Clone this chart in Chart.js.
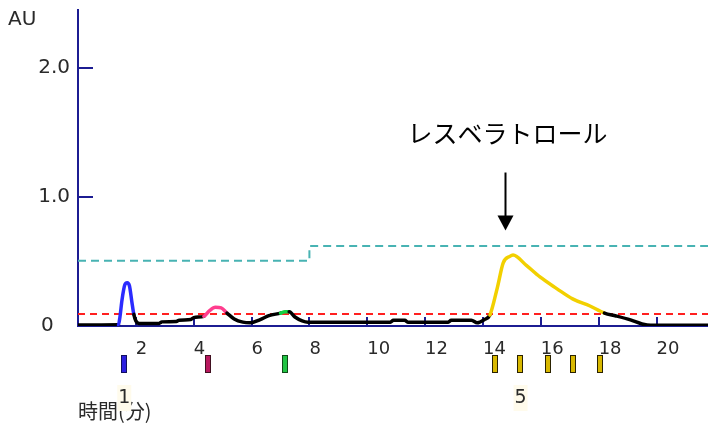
<!DOCTYPE html>
<html>
<head>
<meta charset="utf-8">
<script src="https://cdn.jsdelivr.net/npm/chart.js@4.4.1/dist/chart.umd.min.js"></script>
<style>
  html, body { margin: 0; padding: 0; background: #fff; }
  #wrap { width: 708px; height: 423px; position: relative; }
</style>
</head>
<body>
<div id="wrap"><canvas id="myChart"></canvas></div>
<script>
// chromatogram trace: retention time (min) / absorbance (AU)
const traceTime = [0, 1.40, 1.45, 1.52, 1.62, 1.70, 1.78, 1.86, 1.93, 2.00,
  2.12, 2.80, 2.90, 3.40, 3.50, 3.90, 4.00, 4.35, 4.55, 4.75,
  4.95, 5.15, 5.40, 5.70, 5.95, 6.30, 6.60, 7.00, 7.15, 7.30,
  7.50, 7.75, 7.95, 10.80, 10.90, 11.30, 11.40, 12.80, 12.90, 13.60,
  13.80, 14.05, 14.24, 14.50, 14.70, 14.93, 15.04, 15.50, 15.97, 16.55,
  17.10, 17.70, 18.20, 18.60, 19.10, 19.50, 19.80, 21.78];
const traceAU = [0.008, 0.01, 0.07, 0.2, 0.32, 0.335, 0.31, 0.19, 0.09, 0.04,
  0.02, 0.02, 0.032, 0.035, 0.045, 0.05, 0.065, 0.075, 0.12, 0.145,
  0.14, 0.10, 0.055, 0.03, 0.025, 0.05, 0.08, 0.10, 0.11, 0.11,
  0.07, 0.04, 0.03, 0.03, 0.045, 0.045, 0.03, 0.03, 0.045, 0.045,
  0.025, 0.05, 0.085, 0.30, 0.49, 0.54, 0.55, 0.47, 0.38, 0.29,
  0.21, 0.155, 0.10, 0.078, 0.047, 0.016, 0.005, 0.005];

// detected peak windows (min)
const peakStart = [1.42, 4.35, 7.05, 14.24];
const peakEnd = [1.96, 5.2, 7.35, 18.2];

// threshold lines
const cyanTime = [0, 8.0, 8.0, 21.78];
const cyanAU = [0.505, 0.505, 0.62, 0.62];
const redTime = [0, 21.78];
const redAU = [0.093, 0.093];

// fraction markers below the axis, and peak numbers
const markerTime = [1.6, 4.49, 7.14, 14.4, 15.28, 16.25, 17.1, 18.05];
const markerKind = [0, 1, 2, 3, 3, 3, 3, 3];
const peakNoTime = [1.6, 15.3];
const peakNoText = ['1', '5'];

// axis ticks
const xTicks = [2, 4, 6, 8, 10, 12, 14, 16, 18, 20];
const yTicks = [0, 1, 2];
const yTickText = ['0\u2002 ', '1.0', '2.0'];

const axisColor = '#1c1c92';
const textColor = '#2a2a2a';
const peakColor = ['#2b2bff', '#ff3d8e', '#14d040', '#f2d000'];
const markerFill = ['#2c1fe0', '#b8185e', '#22c444', '#d8b800'];
const markerEdge = ['#121060', '#401020', '#104a18', '#2a2200'];

function segColor(c) {
    const mid = (c.p0.parsed.x + c.p1.parsed.x) / 2;
    for (let i = 0; i < peakStart.length; i++) {
        if (mid >= peakStart[i] && mid <= peakEnd[i]) return peakColor[i];
    }
    return undefined;
}

const overlay = {
    id: 'overlay',
    beforeDatasetsDraw(chart) {
        const {ctx, chartArea: a, scales: {x, y}} = chart;
        ctx.save();
        ctx.strokeStyle = axisColor;
        ctx.lineWidth = 2;
        ctx.beginPath();
        xTicks.forEach(t => {
            const px = Math.round(x.getPixelForValue(t));
            ctx.moveTo(px, a.bottom);
            ctx.lineTo(px, a.bottom - 9);
        });
        yTicks.filter(v => v > 0).forEach(v => {
            const py = Math.round(y.getPixelForValue(v));
            ctx.moveTo(a.left, py);
            ctx.lineTo(a.left + 15, py);
        });
        ctx.stroke();
        ctx.restore();
    },
    afterDraw(chart) {
        const {ctx, chartArea: a, scales: {x, y}} = chart;
        ctx.save();

        // fraction markers
        markerTime.forEach((t, i) => {
            const k = markerKind[i];
            const px = Math.round(x.getPixelForValue(t));
            ctx.fillStyle = markerEdge[k];
            ctx.fillRect(px - 3, a.bottom + 29, 6, 18);
            ctx.fillStyle = markerFill[k];
            ctx.fillRect(px - 2, a.bottom + 30, 4, 16);
        });

        // peak numbers
        ctx.font = '19px "DejaVu Sans"';
        ctx.textAlign = 'center';
        ctx.textBaseline = 'middle';
        peakNoTime.forEach((t, i) => {
            const px = x.getPixelForValue(t);
            ctx.fillStyle = '#fffbec';
            ctx.fillRect(px - 7, a.bottom + 59, 14, 26);
            ctx.fillStyle = textColor;
            ctx.fillText(peakNoText[i], px, a.bottom + 72);
        });

        // unit label
        ctx.textAlign = 'left';
        ctx.font = '20px "DejaVu Sans"';
        ctx.fillText('AU', 8, 20);

        // annotation with arrow
        const ax = Math.round(x.getPixelForValue(14.75)) + 0.5;
        ctx.fillStyle = '#000';
        ctx.textAlign = 'center';
        ctx.font = '25px "Noto Sans CJK JP"';
        ctx.fillText('レスベラトロール', ax + 2, y.getPixelForValue(1.49));
        const top = y.getPixelForValue(1.19);
        const tip = y.getPixelForValue(0.74);
        ctx.strokeStyle = '#000';
        ctx.lineWidth = 2;
        ctx.beginPath();
        ctx.moveTo(ax, top);
        ctx.lineTo(ax, tip - 12);
        ctx.stroke();
        ctx.beginPath();
        ctx.moveTo(ax - 8, tip - 15);
        ctx.lineTo(ax + 8, tip - 15);
        ctx.lineTo(ax, tip);
        ctx.closePath();
        ctx.fill();

        ctx.restore();
    }
};

function draw_chart() {
    const ctx = document.getElementById('myChart');

    new Chart(ctx, {
        type: 'line',
        data: {
            datasets: [{
                data: traceTime.map((t, i) => ({x: t, y: traceAU[i]})),
                borderColor: '#000',
                borderWidth: 3.5,
                pointRadius: 0,
                cubicInterpolationMode: 'monotone',
                borderCapStyle: 'round',
                borderJoinStyle: 'round',
                segment: { borderColor: segColor }
            }, {
                data: cyanTime.map((t, i) => ({x: t, y: cyanAU[i]})),
                borderColor: '#48b3b3',
                borderWidth: 2,
                borderDash: [8, 5],
                pointRadius: 0
            }, {
                data: redTime.map((t, i) => ({x: t, y: redAU[i]})),
                borderColor: '#ff2020',
                borderWidth: 2,
                borderDash: [7, 5],
                pointRadius: 0
            }]
        },
        options: {
            responsive: true,
            maintainAspectRatio: false,
            animation: false,
            layout: { padding: { top: 10, left: 0, right: 0, bottom: 0 } },
            plugins: {
                legend: { display: false },
                tooltip: { enabled: false }
            },
            scales: {
                x: {
                    type: 'linear',
                    min: 0,
                    max: 21.78,
                    afterFit: s => { s.height = 97; s.paddingLeft = 0; s.paddingRight = 0; },
                    grid: { display: false, drawTicks: false },
                    border: { display: true, color: axisColor, width: 2 },
                    ticks: {
                        stepSize: 2,
                        includeBounds: false,
                        autoSkip: false,
                        maxRotation: 0,
                        align: 'start',
                        padding: 13,
                        color: textColor,
                        font: { family: 'DejaVu Sans', size: 18 },
                        callback: v => (xTicks.includes(v) ? String(v) : '')
                    },
                    title: {
                        display: true,
                        text: '時間(分)',
                        align: 'start',
                        color: textColor,
                        font: { family: 'Noto Sans CJK JP', size: 20 },
                        padding: { top: 0, bottom: 0 }
                    }
                },
                y: {
                    type: 'linear',
                    min: 0,
                    max: 2.45,
                    afterFit: s => { s.width = 78; s.paddingTop = 0; s.paddingBottom = 0; },
                    grid: { display: false, drawTicks: false },
                    border: { display: true, color: axisColor, width: 2 },
                    ticks: {
                        stepSize: 1,
                        includeBounds: false,
                        padding: 8,
                        color: textColor,
                        font: { family: 'DejaVu Sans', size: 20 },
                        callback: v => {
                            const i = yTicks.indexOf(v);
                            return i < 0 ? '' : yTickText[i];
                        }
                    }
                }
            }
        },
        plugins: [overlay]
    });
}

draw_chart();
</script>
</body>
</html>
